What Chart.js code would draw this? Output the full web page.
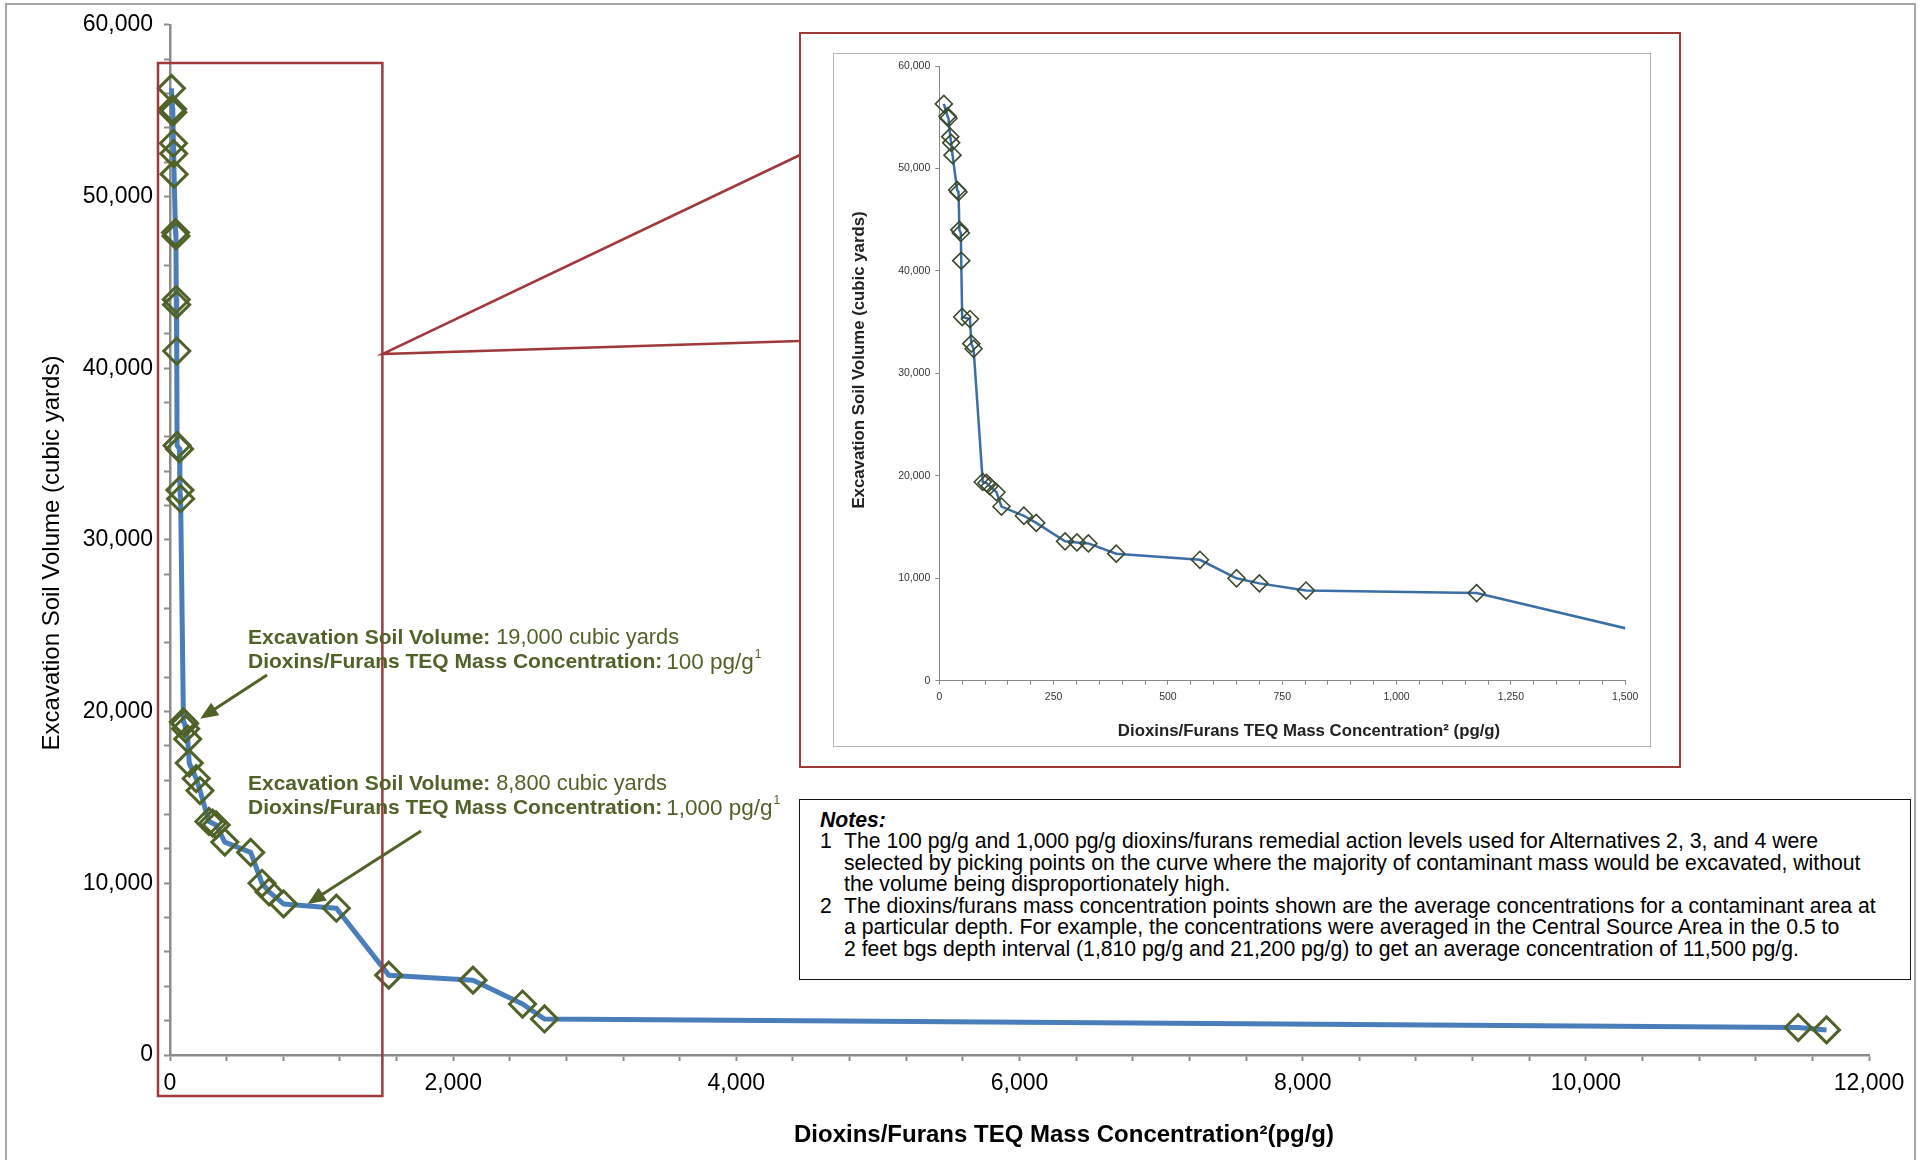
<!DOCTYPE html>
<html>
<head>
<meta charset="utf-8">
<script src="https://cdn.jsdelivr.net/npm/chart.js@4.4.1/dist/chart.umd.min.js"></script>
<style>
  html, body { margin: 0; padding: 0; background: #fff; }
  body { width: 1923px; height: 1160px; position: relative; overflow: hidden; font-family: 'Liberation Sans', Arial, sans-serif; }
  #frame { position: absolute; left: 5px; top: 3px; width: 1911px; height: 1175px; border: 2px solid #a6a6a6; box-sizing: border-box; }
  #main { position: absolute; left: 0; top: 0; }
  #zoomBox { position: absolute; left: 799px; top: 32px; width: 882px; height: 736px; border: 2.5px solid #a0393b; box-sizing: border-box; background: #fff; }
  #insetFrame { position: absolute; left: 833px; top: 53px; width: 818px; height: 694px; border: 1px solid #b4b4b4; box-sizing: border-box; }
  #inset { position: absolute; left: 834px; top: 54px; }
  #notes { position: absolute; left: 799px; top: 799px; width: 1112px; height: 181px; border: 1.5px solid #111; box-sizing: border-box; background: #fff;
           padding: 9px 0 0 20px; font-size: 21.2px; line-height: 21.45px; color: #000; white-space: nowrap; }
  #notes .hd { font-weight: bold; font-style: italic; }
  #notes .row { display: flex; }
  #notes .num { width: 24px; flex: none; }
</style>
</head>
<body>
<div id="frame"></div>
<canvas id="main" width="1923" height="1160"></canvas>
<div id="zoomBox"></div>
<div id="insetFrame"></div>
<canvas id="inset" width="816" height="692"></canvas>
<div id="notes">
  <div class="hd">Notes:</div>
  <div class="row"><span class="num">1</span><span>The 100 pg/g and 1,000 pg/g dioxins/furans remedial action levels used for Alternatives 2, 3, and 4 were<br>selected by picking points on the curve where the majority of contaminant mass would be excavated, without<br>the volume being disproportionately high.</span></div>
  <div class="row"><span class="num">2</span><span>The dioxins/furans mass concentration points shown are the average concentrations for a contaminant area at<br>a particular depth. For example, the concentrations were averaged in the Central Source Area in the 0.5 to<br>2 feet bgs depth interval (1,810 pg/g and 21,200 pg/g) to get an average concentration of 11,500 pg/g.</span></div>
</div>
<script>
// dioxins/furans TEQ concentration (pg/g) and excavation volume (cubic yards)
const CONC = [10, 18, 20, 24, 26, 29, 39, 42, 44, 47, 48, 50, 67, 70, 75, 95, 103, 110, 125, 136, 185, 212, 275, 301, 326, 387, 570, 650, 700, 802, 1175, 1545, 2140, 2490, 2645, 11500, 11700];
const VOLUME = [56300, 55100, 54900, 53100, 52500, 51300, 47900, 47700, 44000, 43700, 41000, 35500, 35300, 32900, 32400, 19400, 19300, 19000, 18400, 17000, 16100, 15400, 13600, 13500, 13400, 12400, 11800, 10000, 9500, 8800, 8550, 4650, 4360, 2970, 2100, 1600, 1460];

// callouts: action level concentration and matching volume
const LEVEL_CONC = [100, 1000];
const LEVEL_VOLUME = [19000, 8800];

const X_MAX = 12000, X_STEP = 400, X_LABEL_STEP = 2000;
const Y_MAX = 60000, Y_STEP = 2000, Y_LABEL_STEP = 10000;
const ZOOM_MAX = 1500, ZOOM_X_STEP = 50, ZOOM_X_LABEL_STEP = 250, ZOOM_Y_STEP = 10000;

const X_TITLE = 'Dioxins/Furans TEQ Mass Concentration\u00B2(pg/g)';
const Y_TITLE = 'Excavation Soil Volume (cubic yards)';
const INSET_X_TITLE = 'Dioxins/Furans TEQ Mass Concentration\u00B2 (pg/g)';

Chart.defaults.font.family = "'Liberation Sans', Arial, sans-serif";

const fmt = v => v.toLocaleString('en-US');
const points = CONC.map((c, i) => ({ x: c, y: VOLUME[i] }));

const GREEN = '#4f6228';
const RED = '#a0393b';

function arrow(ctx, x0, y0, x1, y1) {
  const a = Math.atan2(y1 - y0, x1 - x0), L = 18, W = 7.5;
  ctx.beginPath();
  ctx.moveTo(x0, y0);
  ctx.lineTo(x1 - L * 0.7 * Math.cos(a), y1 - L * 0.7 * Math.sin(a));
  ctx.stroke();
  ctx.beginPath();
  ctx.moveTo(x1, y1);
  ctx.lineTo(x1 - L * Math.cos(a) + W * Math.sin(a), y1 - L * Math.sin(a) - W * Math.cos(a));
  ctx.lineTo(x1 - L * Math.cos(a) - W * Math.sin(a), y1 - L * Math.sin(a) + W * Math.cos(a));
  ctx.closePath();
  ctx.fill();
}

function callout(ctx, left, top, vol, conc) {
  ctx.fillStyle = GREEN;
  ctx.textBaseline = 'middle';
  ctx.textAlign = 'left';
  ctx.font = 'bold 21px "Liberation Sans"';
  let s = 'Excavation Soil Volume: ';
  ctx.fillText(s, left, top);
  let w = ctx.measureText(s).width;
  ctx.font = '21.8px "Liberation Sans"';
  ctx.fillText(fmt(vol) + ' cubic yards', left + w, top);

  ctx.font = 'bold 21px "Liberation Sans"';
  s = 'Dioxins/Furans TEQ Mass Concentration:';
  ctx.fillText(s, left, top + 24.5);
  w = ctx.measureText(s).width + 4;
  ctx.font = '22.5px "Liberation Sans"';
  s = fmt(conc) + ' pg/g';
  ctx.fillText(s, left + w, top + 24.5);
  w += ctx.measureText(s).width + 1;
  ctx.font = '12px "Liberation Sans"';
  ctx.fillText('1', left + w, top + 17);
}

const overlay = {
  id: 'overlay',
  afterDraw(chart) {
    const { ctx, scales: { x, y } } = chart;
    ctx.save();

    // zoom window around the low concentration range
    const boxR = x.getPixelForValue(ZOOM_MAX);
    ctx.strokeStyle = RED;
    ctx.lineWidth = 2.5;
    ctx.strokeRect(158, 63, boxR - 158, 1096 - 63);
    ctx.beginPath();
    ctx.moveTo(800, 155);
    ctx.lineTo(boxR, 354);
    ctx.lineTo(800, 341);
    ctx.stroke();

    // axis titles
    ctx.fillStyle = '#000';
    ctx.textAlign = 'center';
    ctx.textBaseline = 'middle';
    ctx.font = 'bold 24px "Liberation Sans"';
    ctx.fillText(X_TITLE, 1064, 1135);
    ctx.save();
    ctx.translate(52, 553);
    ctx.rotate(-Math.PI / 2);
    ctx.font = '24px "Liberation Sans"';
    ctx.fillText(Y_TITLE, 0, 0);
    ctx.restore();

    // callouts
    callout(ctx, 248, 638, LEVEL_VOLUME[0], LEVEL_CONC[0]);
    callout(ctx, 248, 784, LEVEL_VOLUME[1], LEVEL_CONC[1]);
    ctx.strokeStyle = GREEN;
    ctx.fillStyle = GREEN;
    ctx.lineWidth = 3;
    let tx = x.getPixelForValue(LEVEL_CONC[0]) + 16, ty = y.getPixelForValue(LEVEL_VOLUME[0]) - 10;
    arrow(ctx, 267, 675, tx, ty);
    tx = x.getPixelForValue(LEVEL_CONC[1]) - 4; ty = y.getPixelForValue(LEVEL_VOLUME[1]);
    arrow(ctx, 421, 831, tx, ty);
    ctx.restore();
  }
};

new Chart(document.getElementById('main'), {
  type: 'scatter',
  data: {
    datasets: [{
      data: points,
      showLine: true,
      borderColor: '#4a7ebb',
      borderWidth: 5,
      borderJoinStyle: 'round',
      pointStyle: 'rectRot',
      pointRadius: 13,
      pointBorderWidth: 3,
      pointBorderColor: GREEN,
      pointBackgroundColor: 'rgba(0,0,0,0)',
      clip: false
    }]
  },
  options: {
    responsive: false,
    animation: false,
    events: [],
    layout: { padding: { left: 0, top: 23, right: 54, bottom: 0 } },
    plugins: { legend: { display: false }, tooltip: { enabled: false } },
    scales: {
      x: {
        type: 'linear', min: 0, max: X_MAX,
        afterFit(s) { s.height = 105; },
        ticks: { stepSize: X_STEP, autoSkip: false, maxRotation: 0, padding: 9, color: '#000', font: { size: 23 },
          callback: v => v % X_LABEL_STEP === 0 ? fmt(v) : '' },
        grid: { drawOnChartArea: false, tickLength: 6, tickColor: '#8c8c8c', tickWidth: 2 },
        border: { color: '#8c8c8c', width: 2.5 }
      },
      y: {
        type: 'linear', min: 0, max: Y_MAX,
        afterFit(s) { s.width = 170; },
        ticks: { stepSize: Y_STEP, autoSkip: false, padding: 11, color: '#000', font: { size: 23 },
          callback: v => v % Y_LABEL_STEP === 0 ? fmt(v) : '' },
        grid: { drawOnChartArea: false, tickLength: 6, tickColor: '#8c8c8c', tickWidth: 2 },
        border: { color: '#8c8c8c', width: 2.5 }
      }
    }
  },
  plugins: [overlay]
});

const insetTitles = {
  id: 'insetTitles',
  afterDraw(chart) {
    const { ctx } = chart;
    ctx.save();
    ctx.fillStyle = '#222';
    ctx.textAlign = 'center';
    ctx.textBaseline = 'middle';
    ctx.font = 'bold 16.8px "Liberation Sans"';
    ctx.fillText(INSET_X_TITLE, 475, 677);
    ctx.translate(25, 306);
    ctx.rotate(-Math.PI / 2);
    ctx.fillText(Y_TITLE, 0, 0);
    ctx.restore();
  }
};

new Chart(document.getElementById('inset'), {
  type: 'scatter',
  data: {
    datasets: [{
      data: points,
      showLine: true,
      borderColor: '#3c6ea6',
      borderWidth: 2.5,
      pointStyle: 'rectRot',
      pointRadius: 8.5,
      pointBorderWidth: 1.6,
      pointBorderColor: '#3b4a2c',
      pointBackgroundColor: 'rgba(0,0,0,0)',
      clip: { left: 12, top: 12, right: 0, bottom: 0 }
    }]
  },
  options: {
    responsive: false,
    animation: false,
    events: [],
    layout: { padding: { left: 0, top: 12, right: 24.8, bottom: 0 } },
    plugins: { legend: { display: false }, tooltip: { enabled: false } },
    scales: {
      x: {
        type: 'linear', min: 0, max: ZOOM_MAX,
        afterFit(s) { s.height = 65.3; },
        ticks: { stepSize: ZOOM_X_STEP, autoSkip: false, maxRotation: 0, padding: 6, color: '#333', font: { size: 10.5 },
          callback: v => v % ZOOM_X_LABEL_STEP === 0 ? fmt(v) : '' },
        grid: { drawOnChartArea: false, tickLength: 4, tickColor: '#888' },
        border: { color: '#888', width: 1 }
      },
      y: {
        type: 'linear', min: 0, max: Y_MAX,
        afterFit(s) { s.width = 105.3; },
        ticks: { stepSize: ZOOM_Y_STEP, autoSkip: false, padding: 5, color: '#333', font: { size: 10.5 },
          callback: v => fmt(v) },
        grid: { drawOnChartArea: false, tickLength: 4, tickColor: '#888' },
        border: { color: '#888', width: 1 }
      }
    }
  },
  plugins: [insetTitles]
});
</script>
</body>
</html>
